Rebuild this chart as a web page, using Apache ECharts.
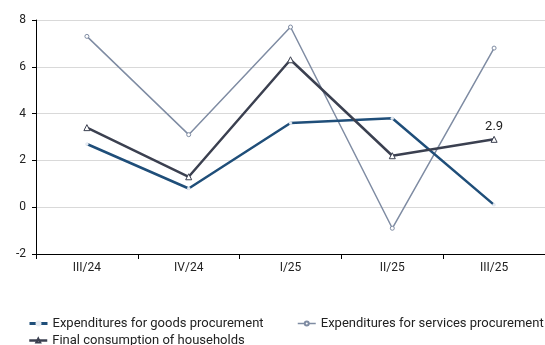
<!DOCTYPE html>
<html>
<head>
<meta charset="utf-8">
<script src="https://cdn.jsdelivr.net/npm/echarts@6/dist/echarts.min.js"></script>
<style>
  html, body { margin: 0; padding: 0; background: #fff; }
  #chart { width: 545px; height: 345px; }
</style>
</head>
<body>
<div id="chart"></div>
<script>
// Quarters on the horizontal axis
const quarters = ['III/24', 'IV/24', 'I/25', 'II/25', 'III/25'];

// Year-on-year growth, %
const goodsProcurement = [2.7, 0.8, 3.6, 3.8, 0.1];
const servicesProcurement = [7.3, 3.1, 7.7, -0.9, 6.8];
const householdConsumption = [3.4, 1.3, 6.3, 2.2, 2.9];

const seriesNames = [
  'Expenditures for goods procurement',
  'Expenditures for services procurement',
  'Final consumption of households'
];

// Value axis ticks
const yMin = -2;
const yMax = 8;
const yStep = 2;

const FONT = 'Roboto, "Noto Sans", sans-serif';
const COLOR_GOODS = '#1f4e79';
const COLOR_SERVICES = '#7f8ca3';
const COLOR_HOUSEHOLDS = '#3b4050';

const chart = echarts.init(document.getElementById('chart'), null, { renderer: 'canvas' });

const legendText = { color: '#222', fontSize: 13, fontFamily: FONT };

function legendFor(name, left, top, lineWidth) {
  return {
    data: [name],
    left: left,
    top: top,
    padding: 0,
    itemWidth: 18,
    itemHeight: 5,
    itemGap: 0,
    textStyle: legendText,
    lineStyle: { width: lineWidth }
  };
}

chart.setOption({
  animation: false,
  backgroundColor: '#fff',
  textStyle: { fontFamily: FONT },
  grid: { left: 36, right: -4, top: 20, bottom: 91, containLabel: false },
  legend: [
    legendFor(seriesNames[0], 28, 317, 3),
    legendFor(seriesNames[1], 297, 317, 1.5),
    legendFor(seriesNames[2], 28, 334, 2.5)
  ],
  xAxis: [
    {
      // category labels along the bottom of the plot
      type: 'category',
      data: quarters,
      boundaryGap: true,
      axisLine: { show: false },
      axisTick: { show: false },
      axisLabel: { color: '#222', fontSize: 12, fontFamily: FONT, margin: 8 },
      splitLine: { show: false }
    },
    {
      // baseline drawn through zero with category separators
      type: 'category',
      data: quarters,
      boundaryGap: true,
      position: 'bottom',
      axisLine: { show: true, onZero: true, lineStyle: { color: '#000', width: 1 } },
      axisTick: { show: true, length: 5, lineStyle: { color: '#000' } },
      axisLabel: { show: false },
      splitLine: { show: false }
    }
  ],
  yAxis: {
    type: 'value',
    min: yMin,
    max: yMax,
    interval: yStep,
    axisLine: { show: true, lineStyle: { color: '#000', width: 1 } },
    axisTick: { show: true, length: 4, lineStyle: { color: '#000' } },
    axisLabel: { color: '#222', fontSize: 12, fontFamily: FONT, margin: 10 },
    splitLine: { show: true, lineStyle: { color: '#d9d9d9', width: 1 } }
  },
  series: [
    {
      name: seriesNames[0],
      type: 'line',
      data: goodsProcurement,
      color: COLOR_GOODS,
      lineStyle: { color: COLOR_GOODS, width: 2.5 },
      symbol: 'circle',
      symbolSize: 3,
      itemStyle: { color: '#e6ebf2', borderColor: '#e6ebf2', borderWidth: 0.5 },
      z: 3
    },
    {
      name: seriesNames[1],
      type: 'line',
      data: servicesProcurement,
      color: COLOR_SERVICES,
      lineStyle: { color: COLOR_SERVICES, width: 1.5 },
      symbol: 'circle',
      symbolSize: 4,
      itemStyle: { color: '#fff', borderColor: COLOR_SERVICES, borderWidth: 1 },
      z: 2
    },
    {
      name: seriesNames[2],
      type: 'line',
      data: householdConsumption,
      color: COLOR_HOUSEHOLDS,
      lineStyle: { color: COLOR_HOUSEHOLDS, width: 2.5 },
      symbol: 'triangle',
      symbolSize: 6,
      itemStyle: { color: '#fff', borderColor: COLOR_HOUSEHOLDS, borderWidth: 1 },
      label: {
        show: true,
        position: 'top',
        distance: 3,
        color: '#222',
        fontSize: 13,
        fontFamily: FONT,
        formatter: function (p) {
          return p.dataIndex === householdConsumption.length - 1 ? p.value.toFixed(1) : '';
        }
      },
      z: 4
    }
  ]
});
</script>
</body>
</html>
